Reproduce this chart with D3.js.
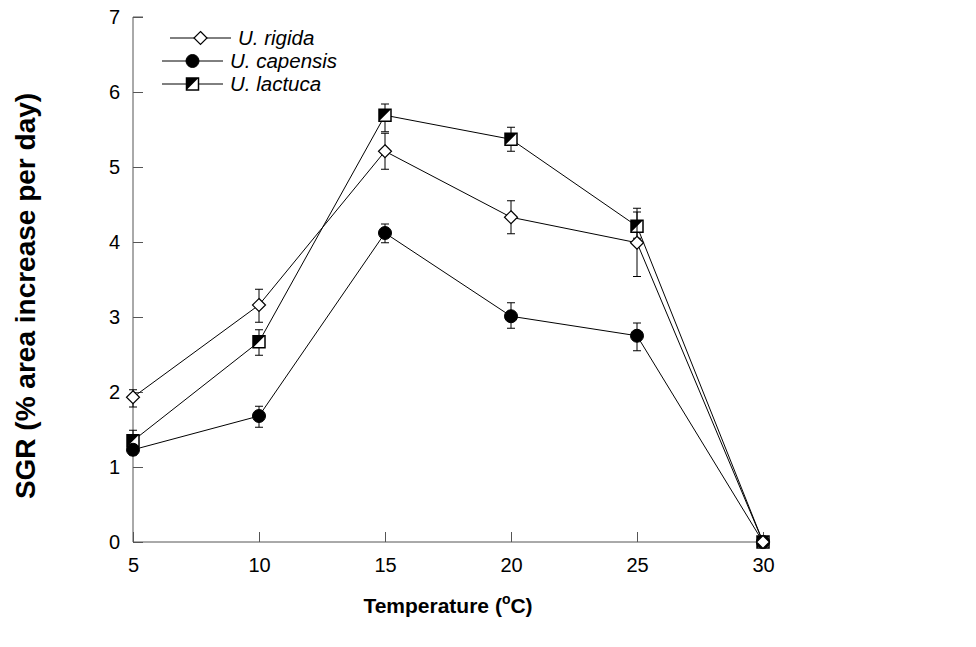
<!DOCTYPE html>
<html>
<head>
<meta charset="utf-8">
<script src="https://cdn.jsdelivr.net/npm/d3@7"></script>
<style>
  body { margin: 0; background: #fff; }
  text { font-family: "Liberation Sans", Arial, sans-serif; }
</style>
</head>
<body>
<div id="chart"></div>
<script>
// temperatures (°C)
const temps = [5, 10, 15, 20, 25, 30];

// SGR means and error bar ends (% area increase per day)
const rigida      = [1.93, 3.16, 5.21, 4.33, 3.99, 0];
const rigidaHi    = [2.03, 3.37, 5.45, 4.55, 4.45, null];
const rigidaLo    = [1.80, 2.93, 4.97, 4.11, 3.54, null];

const capensis    = [1.23, 1.68, 4.12, 3.01, 2.75, 0];
const capensisHi  = [1.30, 1.81, 4.24, 3.19, 2.92, null];
const capensisLo  = [1.16, 1.53, 3.99, 2.85, 2.55, null];

const lactuca     = [1.35, 2.67, 5.69, 5.37, 4.21, 0];
const lactucaHi   = [1.49, 2.83, 5.84, 5.53, 4.40, null];
const lactucaLo   = [1.22, 2.49, 5.47, 5.21, 4.05, null];

const seriesNames = ['U. rigida', 'U. capensis', 'U. lactuca'];
const yTicks = [0, 1, 2, 3, 4, 5, 6, 7];
const xTicks = [5, 10, 15, 20, 25, 30];

const W = 976, H = 647;
const m = { left: 133, right: 763, top: 17, bottom: 542 };

const svg = d3.select('#chart').append('svg')
  .attr('width', W).attr('height', H);

const x = d3.scaleLinear().domain([5, 30]).range([m.left, m.right]);
const y = d3.scaleLinear().domain([0, 7]).range([m.bottom, m.top]);

const axisColor = '#555';

// Y axis
const gy = svg.append('g')
  .attr('transform', `translate(${m.left},0)`)
  .call(d3.axisRight(y).tickValues(yTicks).tickSize(10).tickFormat(d3.format('d')));
gy.select('.domain').attr('stroke', axisColor).attr('d', `M10,${m.top}H0V${m.bottom}`);
gy.selectAll('.tick line').attr('stroke', axisColor);
gy.selectAll('.tick text')
  .attr('x', -13).attr('text-anchor', 'end')
  .attr('font-size', 20).attr('fill', '#000');

// X axis
const gx = svg.append('g')
  .attr('transform', `translate(0,${m.bottom})`)
  .call(d3.axisTop(x).tickValues(xTicks).tickSize(10).tickFormat(d3.format('d')));
gx.select('.domain').attr('stroke', axisColor).attr('d', `M${m.left},0H${m.right + 3}`);
gx.selectAll('.tick line').attr('stroke', axisColor);
gx.selectAll('.tick text')
  .attr('y', 30).attr('dy', 0)
  .attr('font-size', 20).attr('fill', '#000');

// axis titles
svg.append('text')
  .attr('transform', 'translate(35,296) rotate(-90)')
  .attr('text-anchor', 'middle')
  .attr('font-size', 28).attr('font-weight', 'bold')
  .text('SGR (% area increase per day)');

const xt = svg.append('text')
  .attr('x', 448).attr('y', 613)
  .attr('text-anchor', 'middle')
  .attr('font-size', 21).attr('font-weight', 'bold');
xt.append('tspan').text('Temperature (');
xt.append('tspan').attr('font-size', 14).attr('dy', -9).text('o');
xt.append('tspan').attr('dy', 9).text('C)');

// marker drawers
const S = 12;
function drawMarker(g, kind, cx, cy) {
  if (kind === 'diamond') {
    const r = 6.5;
    g.append('path')
      .attr('d', `M${cx},${cy - r}L${cx + r},${cy}L${cx},${cy + r}L${cx - r},${cy}Z`)
      .attr('fill', '#fff').attr('stroke', '#000').attr('stroke-width', 1.2);
  } else if (kind === 'circle') {
    g.append('circle').attr('cx', cx).attr('cy', cy).attr('r', 6.5)
      .attr('fill', '#000').attr('stroke', '#000');
  } else {
    const h = S / 2;
    g.append('rect').attr('x', cx - h).attr('y', cy - h)
      .attr('width', S).attr('height', S)
      .attr('fill', '#fff').attr('stroke', '#000').attr('stroke-width', 1.5);
    g.append('path')
      .attr('d', `M${cx - h},${cy - h}L${cx + h},${cy - h}L${cx - h},${cy + h}Z`)
      .attr('fill', '#000');
  }
}

const series = [
  { name: seriesNames[2], kind: 'square',  v: lactuca,  hi: lactucaHi,  lo: lactucaLo },
  { name: seriesNames[1], kind: 'circle',  v: capensis, hi: capensisHi, lo: capensisLo },
  { name: seriesNames[0], kind: 'diamond', v: rigida,   hi: rigidaHi,   lo: rigidaLo }
];

const line = d3.line().x(d => x(d[0])).y(d => y(d[1]));

series.forEach(s => {
  const pts = temps.map((t, i) => [t, s.v[i]]);
  svg.append('path').datum(pts)
    .attr('d', line).attr('fill', 'none')
    .attr('stroke', '#000').attr('stroke-width', 1);
});

series.forEach(s => {
  const g = svg.append('g');
  temps.forEach((t, i) => {
    if (s.hi[i] == null) return;
    const cx = x(t);
    g.append('line').attr('x1', cx).attr('x2', cx)
      .attr('y1', y(s.hi[i])).attr('y2', y(s.lo[i]))
      .attr('stroke', '#000').attr('stroke-width', 1);
    [s.hi[i], s.lo[i]].forEach(e => {
      g.append('line').attr('x1', cx - 4).attr('x2', cx + 4)
        .attr('y1', y(e)).attr('y2', y(e))
        .attr('stroke', '#000').attr('stroke-width', 1);
    });
  });
  temps.forEach((t, i) => drawMarker(g, s.kind, x(t), y(s.v[i])));
});

// legend
const legend = [
  { name: seriesNames[0], kind: 'diamond', x1: 170, x2: 231, yy: 38 },
  { name: seriesNames[1], kind: 'circle',  x1: 162, x2: 223, yy: 61 },
  { name: seriesNames[2], kind: 'square',  x1: 162, x2: 223, yy: 84 }
];
legend.forEach(l => {
  const g = svg.append('g');
  g.append('line').attr('x1', l.x1).attr('x2', l.x2)
    .attr('y1', l.yy).attr('y2', l.yy)
    .attr('stroke', '#000').attr('stroke-width', 1);
  drawMarker(g, l.kind, (l.x1 + l.x2) / 2, l.yy);
  g.append('text').attr('x', l.x2 + 7).attr('y', l.yy + 7)
    .attr('font-size', 20.5).attr('font-style', 'italic')
    .text(l.name);
});
</script>
</body>
</html>
